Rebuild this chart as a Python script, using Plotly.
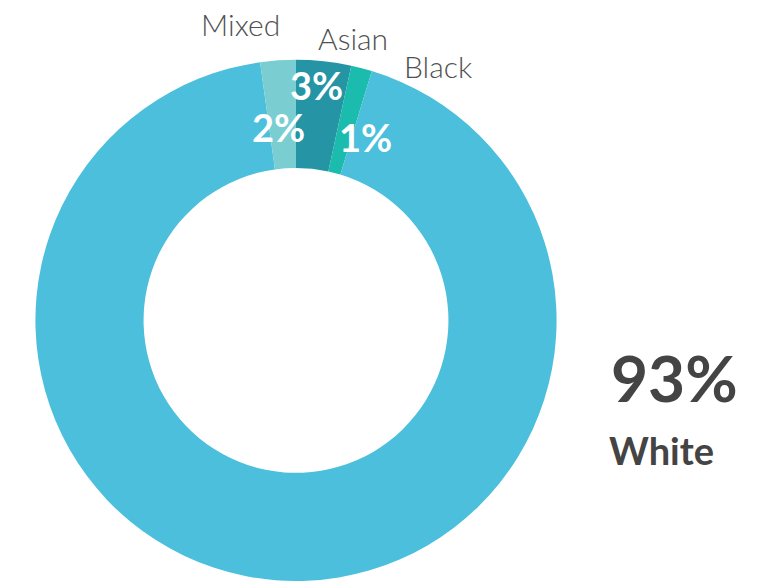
import plotly.graph_objects as go

# Data (clockwise from 12 o'clock)
groups = ["Asian", "Black", "White", "Mixed"]
shares = [3.4, 1.3, 93.1, 2.2]
pct_labels = ["3%", "1%", "93%", "2%"]
colors = ["#2594A5", "#1BBBAE", "#4BBFDB", "#7ACED2"]

W, H = 762, 581
FONT = "Lato, 'Open Sans', sans-serif"

def px(x, y):
    return x / W, 1 - y / H

fig = go.Figure(go.Pie(
    labels=groups,
    values=shares,
    sort=False,
    direction="clockwise",
    rotation=0,
    hole=0.585,
    marker=dict(colors=colors, line=dict(width=0)),
    textinfo="none",
    hoverinfo="label+percent",
    showlegend=False,
    domain=dict(x=[33 / W, 559 / W], y=[0, 0.897]),
))

annots = []
light = dict(family=FONT, size=30, color="#505050", weight=300)
boldw = dict(family=FONT, size=38, color="#FFFFFF", weight="bold")

# outer category names for the thin slices
outer_pos = {"Mixed": (241, 24), "Asian": (353, 38), "Black": (438, 66)}
inner_pos = {"Asian": (316, 85), "Mixed": (278, 127), "Black": (365, 137)}
for g, p in zip(groups, pct_labels):
    if g in outer_pos:
        x, y = px(*outer_pos[g])
        annots.append(dict(x=x, y=y, xref="paper", yref="paper", text=g, showarrow=False,
                           xanchor="center", yanchor="middle", font=light))
        x, y = px(*inner_pos[g])
        annots.append(dict(x=x, y=y, xref="paper", yref="paper", text=p, showarrow=False,
                           xanchor="center", yanchor="middle", font=boldw))

# Big callout for the dominant group
big_i = shares.index(max(shares))
x, y = px(674, 377)
annots.append(dict(x=x, y=y, xref="paper", yref="paper", text=pct_labels[big_i], showarrow=False,
                   xanchor="center", yanchor="middle",
                   font=dict(family=FONT, size=64, color="#444444", weight="bold")))
x, y = px(661, 450)
annots.append(dict(x=x, y=y, xref="paper", yref="paper", text=groups[big_i], showarrow=False,
                   xanchor="center", yanchor="middle",
                   font=dict(family=FONT, size=38, color="#444444", weight="bold")))

fig.update_layout(
    width=W, height=H,
    margin=dict(l=0, r=0, t=0, b=0),
    paper_bgcolor="white",
    plot_bgcolor="white",
    annotations=annots,
)

fig.write_html("out.html")
